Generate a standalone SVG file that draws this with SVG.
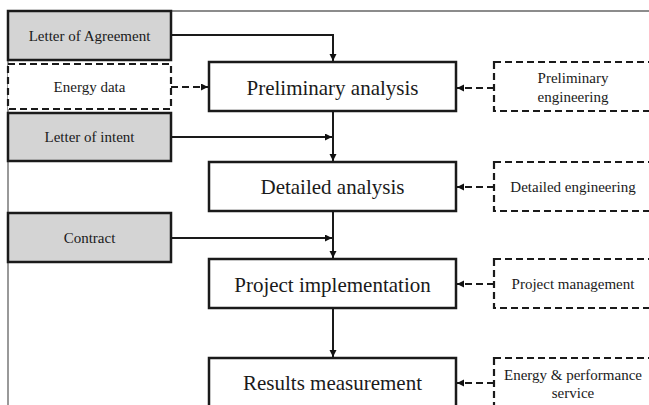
<svg xmlns="http://www.w3.org/2000/svg" width="649" height="405" viewBox="0 0 649 405">
<defs>
<marker id="ah" markerUnits="userSpaceOnUse" markerWidth="8" markerHeight="8" refX="7" refY="3.5" orient="auto">
<path d="M0,0 L7,3.5 L0,7 z" fill="#111"/>
</marker>
<style>
.doc{fill:#d4d4d4;stroke:#1a1a1a;stroke-width:2.5}
.dash{fill:#fff;stroke:#1a1a1a;stroke-width:2.2;stroke-dasharray:7 4}
.main{fill:#fff;stroke:#1a1a1a;stroke-width:2.5}
.t{font-family:"Liberation Serif","Times New Roman",serif;fill:#1a1a1a;text-anchor:middle}
.s{font-size:15px}
.m{font-size:21px}
.c{fill:none;stroke:#1a1a1a;stroke-width:2}
.cd{fill:none;stroke:#1a1a1a;stroke-width:2;stroke-dasharray:7 4}
</style>
</defs>
<rect width="649" height="405" fill="#fff"/>
<g id="frame">
<line x1="8" y1="11" x2="649" y2="11" stroke="#666" stroke-width="1.5"/>
<line x1="8" y1="11" x2="8" y2="405" stroke="#777" stroke-width="1.5"/>
</g>
<g id="connectors">
<path class="c" d="M171,35 H333 V61" marker-end="url(#ah)"/>
<path class="cd" d="M171,87 H208" marker-end="url(#ah)"/>
<path class="c" d="M171,137 H332" marker-end="url(#ah)"/>
<path class="c" d="M333,111 V161" marker-end="url(#ah)"/>
<path class="c" d="M171,238 H332" marker-end="url(#ah)"/>
<path class="c" d="M333,211 V258" marker-end="url(#ah)"/>
<path class="c" d="M333,308 V357" marker-end="url(#ah)"/>
<path class="cd" d="M494,88 H457" marker-end="url(#ah)"/>
<path class="cd" d="M494,187 H457" marker-end="url(#ah)"/>
<path class="cd" d="M494,284 H457" marker-end="url(#ah)"/>
<path class="cd" d="M494,383 H457" marker-end="url(#ah)"/>
</g>
<g id="letter-of-agreement">
<rect class="doc" x="8" y="11" width="163" height="49"/>
<text class="t s" x="89.5" y="41">Letter of Agreement</text>
</g>
<g id="energy-data">
<rect class="dash" x="8" y="64" width="163" height="45"/>
<text class="t s" x="89.5" y="92">Energy data</text>
</g>
<g id="letter-of-intent">
<rect class="doc" x="8" y="113" width="163" height="48"/>
<text class="t s" x="89.5" y="142">Letter of intent</text>
</g>
<g id="contract">
<rect class="doc" x="8" y="213" width="163" height="49"/>
<text class="t s" x="89.5" y="243">Contract</text>
</g>
<g id="preliminary-analysis">
<rect class="main" x="209" y="62" width="247" height="49"/>
<text class="t m" x="332.5" y="95">Preliminary analysis</text>
</g>
<g id="detailed-analysis">
<rect class="main" x="209" y="162" width="247" height="49"/>
<text class="t m" x="332.5" y="194">Detailed analysis</text>
</g>
<g id="project-implementation">
<rect class="main" x="209" y="259" width="247" height="49"/>
<text class="t m" x="332.5" y="292">Project implementation</text>
</g>
<g id="results-measurement">
<rect class="main" x="209" y="358" width="247" height="60"/>
<text class="t m" x="332.5" y="390">Results measurement</text>
</g>
<g id="preliminary-engineering">
<rect class="dash" x="494" y="62" width="158" height="49"/>
<text class="t s" x="573" y="83">Preliminary</text>
<text class="t s" x="573" y="102">engineering</text>
</g>
<g id="detailed-engineering">
<rect class="dash" x="494" y="162" width="158" height="49"/>
<text class="t s" x="573" y="192">Detailed engineering</text>
</g>
<g id="project-management">
<rect class="dash" x="494" y="259" width="158" height="49"/>
<text class="t s" x="573" y="289">Project management</text>
</g>
<g id="energy-performance-service">
<rect class="dash" x="494" y="358" width="158" height="60"/>
<text class="t s" x="573" y="380">Energy &amp; performance</text>
<text class="t s" x="573" y="398">service</text>
</g>
</svg>
